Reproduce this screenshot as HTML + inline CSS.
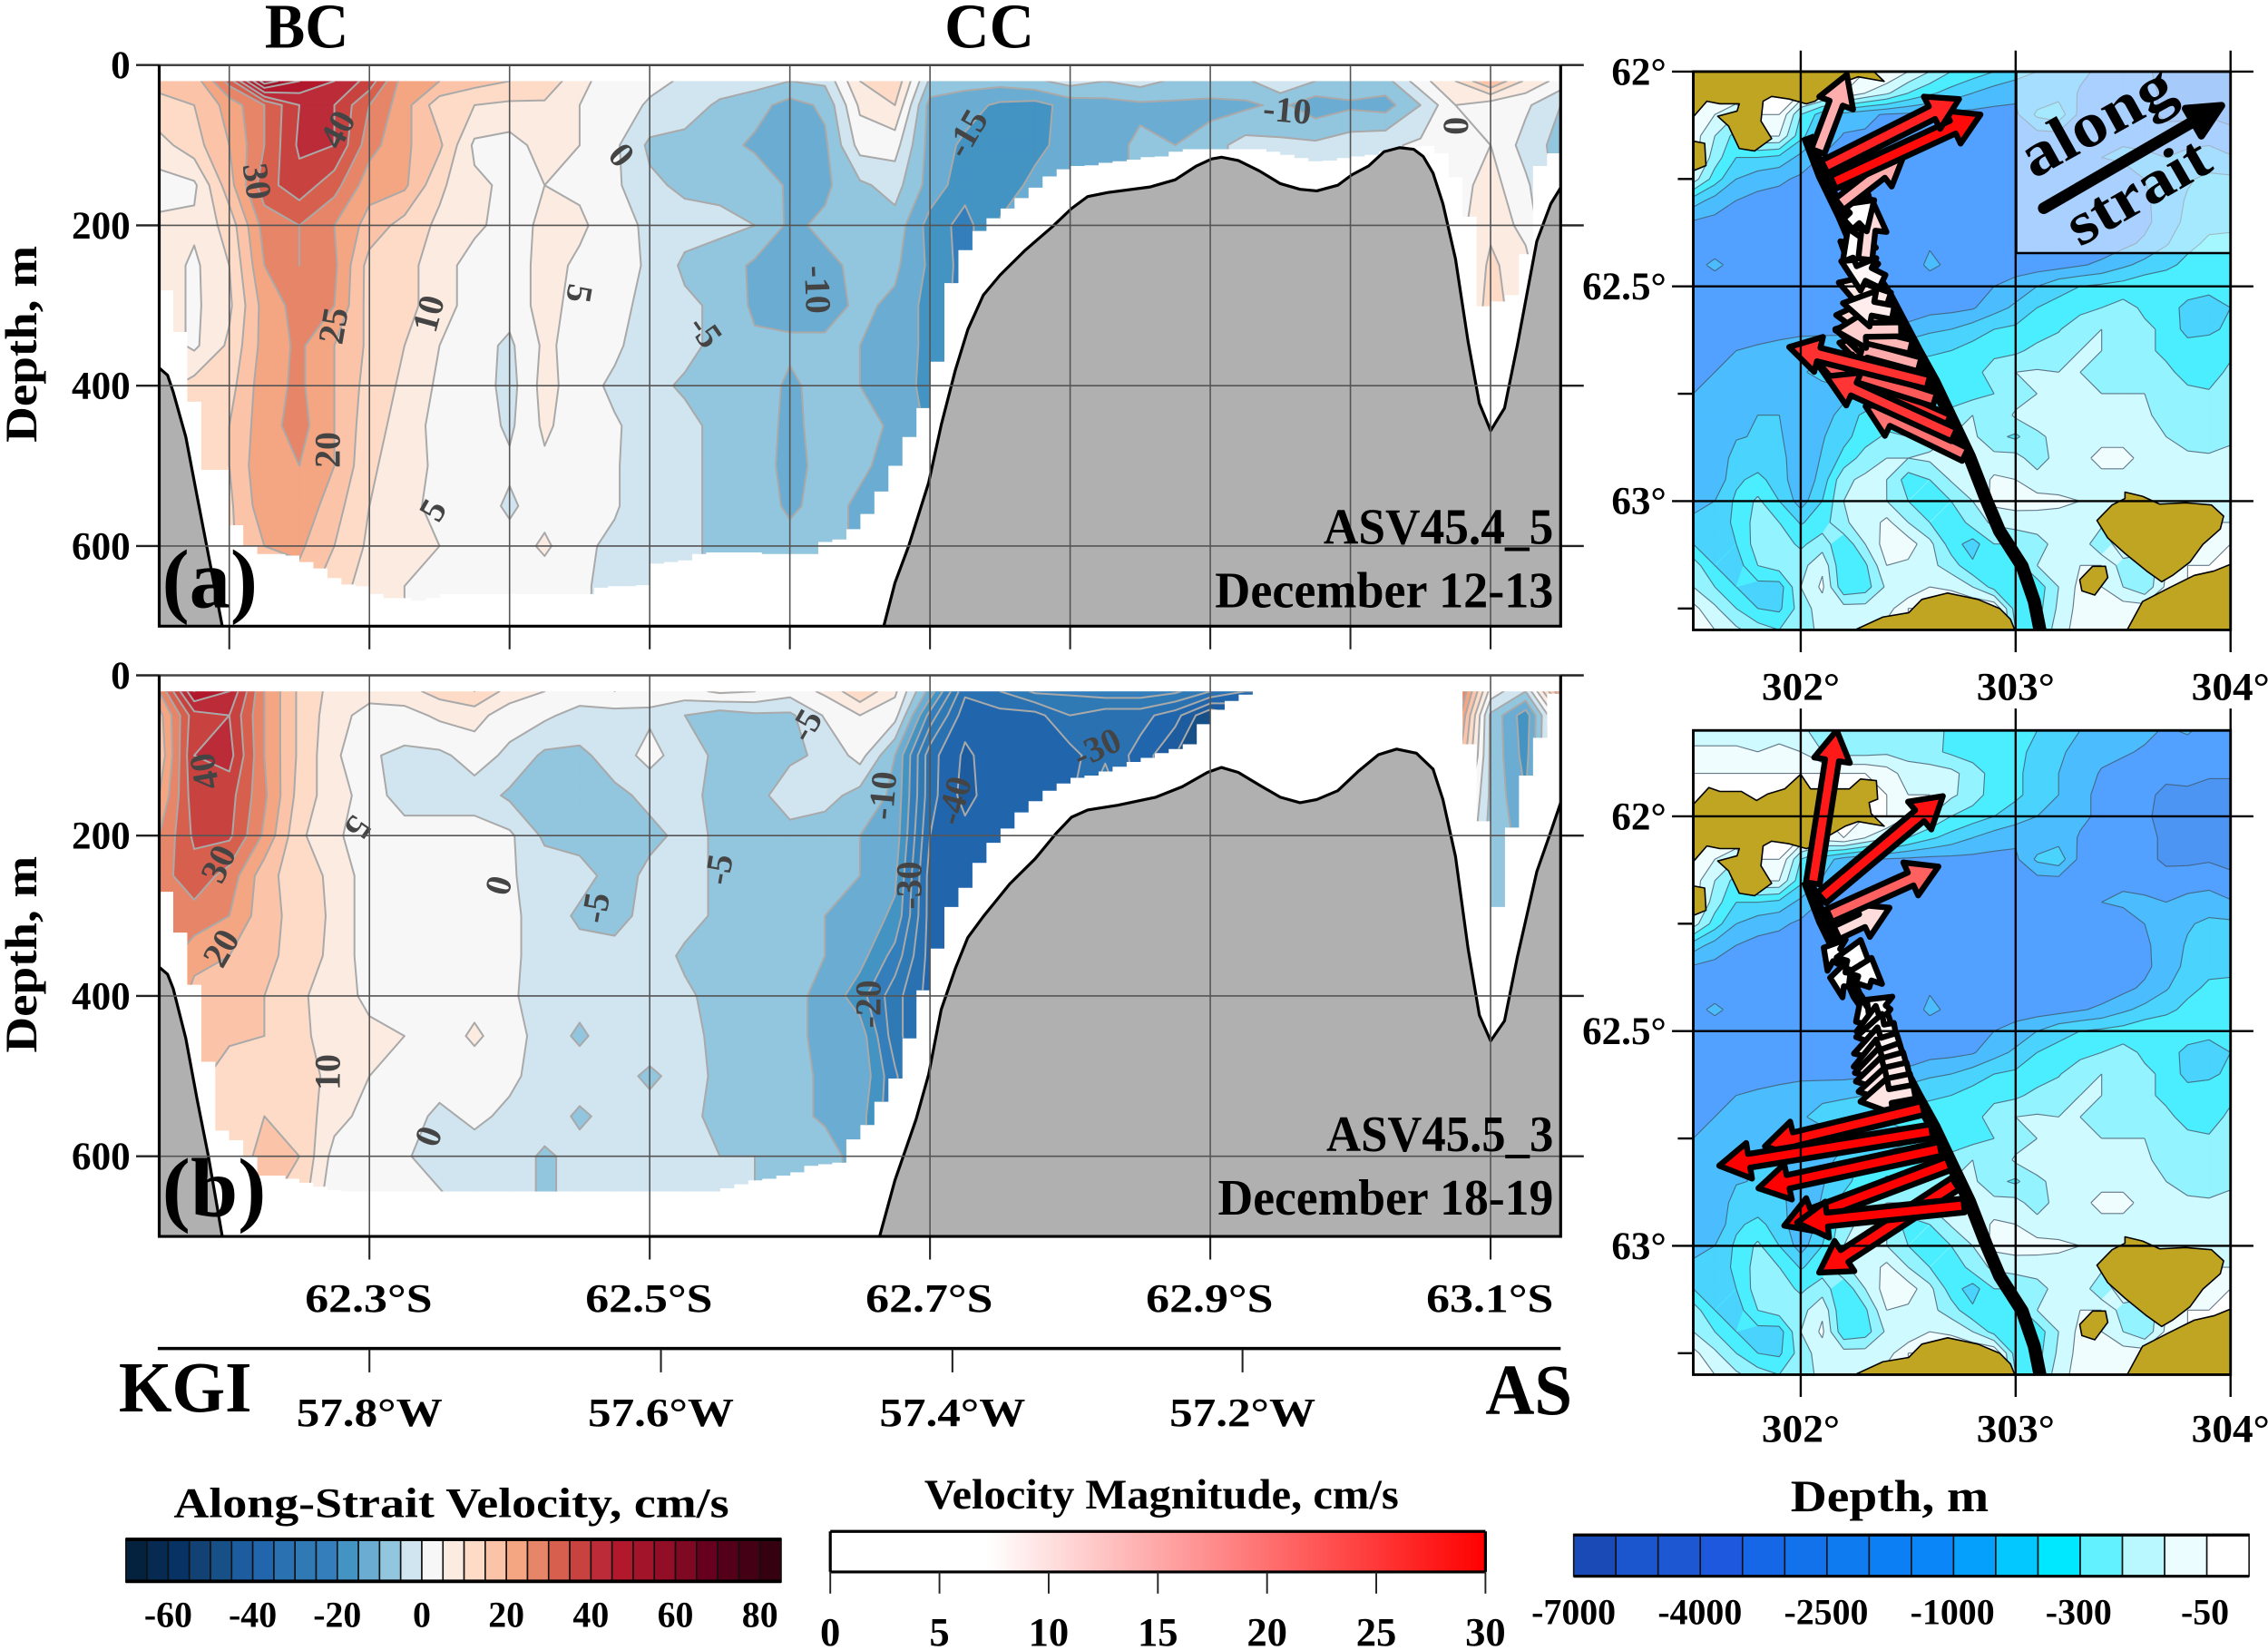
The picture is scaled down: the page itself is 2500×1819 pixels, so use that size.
<!DOCTYPE html>
<html lang="en">
<head>
<meta charset="utf-8">
<title>Along-strait velocity sections and bathymetry maps</title>
<style>
html,body{margin:0;padding:0;background:#fff;}
svg{display:block;width:2500px;height:1819px;}
text{font-family:"Liberation Serif",serif;font-weight:bold;fill:#000;}
</style>
</head>
<body>
<svg id="figure" xmlns="http://www.w3.org/2000/svg" width="2500" height="1819" viewBox="0 0 1568 1141">
<rect x="0" y="0" width="1568" height="1141" fill="#fff"/>
<g id="panel-a"></g>
<g id="panel-b"></g>
<g id="map-a"></g>
<g id="map-b"></g>
<g id="axes-extra"></g>
<g id="colorbars"></g>

<text x="212" y="33" font-size="44" text-anchor="middle" textLength="58" lengthAdjust="spacingAndGlyphs">BC</text>
<text x="684" y="33" font-size="44" text-anchor="middle" textLength="62" lengthAdjust="spacingAndGlyphs">CC</text>
<text transform="translate(25,238) rotate(-90)" font-size="31" text-anchor="middle" textLength="136" lengthAdjust="spacingAndGlyphs">Depth, m</text>
<text transform="translate(25,660) rotate(-90)" font-size="31" text-anchor="middle" textLength="136" lengthAdjust="spacingAndGlyphs">Depth, m</text>
<text x="112" y="420" font-size="58" textLength="66" lengthAdjust="spacingAndGlyphs">(a)</text>
<text x="112" y="841" font-size="58" textLength="72" lengthAdjust="spacingAndGlyphs">(b)</text>
<text x="915" y="376" font-size="35" textLength="159" lengthAdjust="spacingAndGlyphs">ASV45.4_5</text>
<text x="840" y="420" font-size="35" textLength="234" lengthAdjust="spacingAndGlyphs">December 12-13</text>
<text x="917" y="796" font-size="35" textLength="157" lengthAdjust="spacingAndGlyphs">ASV45.5_3</text>
<text x="842" y="840" font-size="35" textLength="232" lengthAdjust="spacingAndGlyphs">December 18-19</text>
<text x="82" y="976" font-size="50" textLength="92" lengthAdjust="spacingAndGlyphs">KGI</text>
<text x="1027" y="978" font-size="50" textLength="60" lengthAdjust="spacingAndGlyphs">AS</text>
<text x="120" y="1049" font-size="29" textLength="384" lengthAdjust="spacingAndGlyphs">Along-Strait Velocity, cm/s</text>
<text x="639" y="1043" font-size="29" textLength="328" lengthAdjust="spacingAndGlyphs">Velocity Magnitude, cm/s</text>
<text x="1238" y="1045" font-size="31" textLength="137" lengthAdjust="spacingAndGlyphs">Depth, m</text>

<defs>
<linearGradient id="magnitude-gradient" x1="0" x2="1" y1="0" y2="0">
<stop offset="0" stop-color="#fff"/><stop offset="0.24" stop-color="#fff"/><stop offset="1" stop-color="#ff0000"/>
</linearGradient>
</defs>
</svg>

<script>
/* ---------- section axes ---------- */
const depthRows = [20,50,100,150,200,250,300,350,400,450,500,550,600,650,680];
const columnLats = [62.15,62.175,62.2,62.225,62.25,62.275,62.3,62.325,62.35,62.375,62.4,62.425,62.45,62.475,62.5,62.525,62.55,62.575,62.6,62.625,62.65,62.675,62.7,62.725,62.75,62.775,62.8,62.825,62.85,62.875,62.9,62.925,62.95,62.975,63.0,63.025,63.05,63.075,63.1,63.125,63.15];
const depthTicks = [0,200,400,600];
const latGridA = [62.2,62.3,62.4,62.5,62.6,62.7,62.8,62.9,63.0,63.1];
const latGridB = [62.3,62.5,62.7,62.9,63.1];
const latLabelValues = [62.3,62.5,62.7,62.9,63.1];
const latLabelText = ["62.3°S","62.5°S","62.7°S","62.9°S","63.1°S"];
const lonTickLats = [62.3,62.508,62.716,62.923];
const lonTickText = ["57.8°W","57.6°W","57.4°W","57.2°W"];

/* ---------- along-strait velocity, cm/s: one array per latitude column, depth rows top to bottom ---------- */
const velocityA = [
[16,14,8,3,6,8,8,8],
[17,15,13,4,6,4,4,4,12],
[32,22,20,18,12,10,9,11,13,15,15,14,14],
[58,30,30,33,27,25,22,22,23,23,24,23,20,18],
[50,40,41,38,30,30,27,26,26,27,25,24,21,18],
[45,40,40,32,25,26,25,20,20,20,20,17,15,12],
[38,30,27,22,18,13,13,14,13,12,11,10,9,8],
[22,22,21,21,13,12,12,10,9,8,7,6,6,5],
[20,12,16,11,9,7,7,5,4,3,4,4,5,3],
[17,10,4,6,6,3,3,2,3,3,3,3,3,2],
[15,9,3,4,3,2,2,-1,-2,-1,1,-1,2,1],
[14,9,7,5,6,7,7,6,7,6,4,3,6,2],
[6,5,5,4,6,4,3,3,2,2,2,2,1,1],
[3,4,1,1,2,3,2,1,-1,0.5,0.5,0.5,-1,-2],
[2,-1,-6,-4,-1,-1,-2,-3,-4,-2,-3,-3,-2,-3],
[-1,-2,-7,-6,-3,-6,-4,-4,-5.5,-4,-4,-4,-4],
[-2,-6,-8,-6,-4,-7,-6,-6,-6,-6,-6,-6,-6],
[-3,-8,-11,-6,-5,-11,-11,-9,-7,-6,-7,-7,-6],
[-5,-12,-11,-11,-11,-12,-12,-9,-11,-12,-12,-11,-8],
[-4,-9,-11,-11,-9,-11,-12,-9,-8,-7,-8,-8],
[10,6,2,-6,-8,-9,-9,-10,-10,-8,-9,-11],
[14,10,2,-3,-7,-9,-11,-11,-12,-11,-12,-12],
[-6,-12,-12,-12,-17,-16,-17,-17,-17,-16],
[-8,-13,-16,-18,-22,-22],
[-8,-16,-17,-19,-14],
[-6,-17,-17,-13],
[-3,-13,-12],
[-5,-12,-12],
[-3,-11,-9],
[-6,-11,-10],
[-5,-12,-7],
[-6,-11,-3],
[-1,-9,-4],
[-5,-13,-4],
[-6,-11,-2],
[-7,-12,-1],
[3,-5,1],
[10,5,3,3,3],
[20,2,5,7,9,11,12,12],
[9,1,-2,1,3,7],
[3,-5,-7]
];
const velocityB = [
[25,18,16,20,25,28,28],
[50,38,40,38,36,33,28,22,18,17],
[45,40,42,37,36,28,25,20,17,16,12,12,13],
[25,25,25,26,24,17,17,17,15,15,11,15,16],
[14,14,14,13,11,12,13,12,11,11,13,13,15,13],
[8,7,6,7,6,9,9,9,7,8,8,7,3,1],
[7,3,0.5,3,2,2,2,2,4,6,5,3,2,0.5],
[8,3,-1,-3,3,1,2,2,3,5,2,2,0.5,1],
[12,6,-1,-2,2,2,2,2,3,2,2,-1,-2,0.5],
[15,7,2,-2,2,2,2,2,3,6,2,1,-2,-2],
[8,2,-1,-6,1,0.5,1,1,1,2,1,-1,-2],
[5,1,-6,-7,-6,-2,-2,-2,-3,-2,-2,-2,-6],
[3,-2,-6,-7,-7,-3,-6,-3,-3,-6,-2,-6,-3,-3],
[5,-2,-3,-6,-7,-7,-7,-3,-2,-2,-3,-3,-4,-2],
[2,-1,2,-4,-6,-4,-3,-2,-2,-2,-6,-3,-3],
[3,-5,-3,-3,-4,-3,-3,-6,-4,-2.5,-3,-4,-4],
[6,-8,-6,-7,-5.5,-6,-6,-7,-7,-7,-6,-6,-5],
[5,-6,-7,-7,-8,-8,-8,-8,-8,-8,-7,-7,-5],
[2,-6,-6,-2,-7,-8,-8,-8,-9,-9,-8,-8,-6],
[6,0.5,-4,-3,-8,-9,-10,-10,-11,-11,-11,-11,-7],
[14,5,2,-7,-10,-10,-12,-13,-18,-12,-11,-13],
[6,2,-10,-11,-12,-14,-16,-22,-28,-28,-24],
[-12,-22,-33,-33,-35,-37,-37,-37],
[-34,-38,-41,-42,-38,-38],
[-30,-37,-37,-36,-36,-36],
[-24,-37,-37,-36,-36],
[-24,-30,-37,-36],
[-22,-33,-31,-26],
[-22,-33,-37],
[-24,-38,-45],
[-30,-50],
[-35,-45],
[-35,-45],
[-35,-45],
[-35,-45],
[-30,-40],
[-10,-10],
[35,30,24,14,10,6],
[3,-6,-6,-6,-7,-7,-7],
[-5,-18,-17,-15,-12],
[25,10]
];

/* ---------- lowest depth with valid velocity data, every 0.01 degree latitude ---------- */
const validDepthA = [281,333,420,505,505,574,600,610,610,612,620,628,640,648,650,660,665,665,668,665,660,660,660,660,660,660,660,660,660,660,660,652,650,650,649,622,620,618,610,608,608,608,608,610,610,610,610,595,592,579,560,532,500,464,428,370,272,231,207,191,179,166,153,139,130,126,125,122,120,118,115,114,108,105,105,105,105,105,105,108,112,116,120,119,116,114,112,108,104,102,101,110,140,189,301,295,287,236,126,110];
const validDepthB = [270,321,386,482,568,580,600,624,624,628,633,638,642,644,644,644,644,644,644,644,644,644,644,644,644,644,644,644,644,644,644,644,644,644,644,644,644,644,644,644,640,635,630,628,624,620,612,610,608,579,561,532,503,453,393,341,289,265,234,209,191,171,157,144,135,128,125,120,114,108,103,97,92,86,61,43,32,24,0,0,0,0,0,0,0,0,0,0,0,0,0,0,0,86,182,289,190,125,78,23];

/* ---------- seafloor profile ---------- */
const floorLatsA = [62.15,62.156,62.16,62.169,62.177,62.185,62.195];
const floorDepthsA = [378,387,408,464,538,610,700];
const ridgeLatsA = [62.667,62.675,62.685,62.699,62.708,62.718,62.727,62.738,62.75,62.768,62.787,62.801,62.8125,62.827,62.857,62.875,62.89,62.901,62.908,62.92,62.935,62.95,62.964,62.976,62.991,63.001,63.013,63.024,63.035,63.045,63.052,63.059,63.066,63.075,63.084,63.092,63.10,63.11,63.119,63.133,63.143,63.15];
const ridgeDepthsA = [700,646,599,521,449,381,330,287,262,231,202,179,164,159,152,143,126,117,115,119,132,148,155,157,150,137,126,108,103,105,114,135,173,242,345,422,456,428,350,220,173,153];
const floorLatsB = [62.15,62.156,62.16,62.169,62.177,62.185,62.195];
const floorDepthsB = [364,373,391,453,529,599,700];
const ridgeLatsB = [62.664,62.675,62.69,62.699,62.708,62.718,62.727,62.738,62.757,62.775,62.79,62.801,62.8125,62.834,62.861,62.88,62.898,62.908,62.92,62.935,62.95,62.964,62.976,62.991,63.006,63.02,63.033,63.047,63.059,63.066,63.075,63.084,63.092,63.10,63.11,63.119,63.133,63.143,63.15];
const ridgeDepthsB = [700,630,554,498,417,366,327,301,260,229,197,177,168,162,152,139,121,115,121,137,152,159,155,144,119,99,92,97,117,155,226,341,424,456,431,352,245,195,159];

/* ---------- contour labels ---------- */
const contourTextA = ["40","30","25","20","10","5","5","0","-5","-10","-15","-10","0"];
const contourLatsA = [62.277,62.22,62.274,62.27,62.342,62.45,62.345,62.48,62.54,62.62,62.726,62.955,63.075];
const contourDepthsA = [80,145,325,480,310,285,555,112,332,280,85,56,76];
const contourAnglesA = [-62,82,-80,-90,-75,100,-60,50,55,88,-60,5,-90];
const contourTextB = ["40","30","20","5","10","0","0","-5","-5","-5","-10","-30","-20","-40","-30"];
const contourLatsB = [62.182,62.192,62.194,62.292,62.27,62.342,62.392,62.461,62.549,62.611,62.666,62.685,62.656,62.717,62.819];
const contourDepthsB = [120,235,340,190,495,575,262,290,242,62,150,262,410,156,90];
const contourAnglesB = [-100,-65,-60,125,-90,-70,-75,-80,-80,-60,-85,-90,-90,-75,-25];

/* ---------- velocity colour map, 5 cm/s per band from -70 ---------- */
const velocityColors = ["#04213e","#062a51","#073264","#114273","#174f87","#1d5c9e","#2166ac","#2a71b2","#2f79b5","#337ebb","#4393c3","#6aacd2","#92c5de","#d1e5f0","#f7f7f7","#fcebe1","#fddbc7","#fbc4a8","#f4a582","#e78569","#d6604d","#c8433f","#bb2b38","#b2182b","#a21429","#910e26","#7f0822","#67001f","#550019","#440015","#35000f"];
const velocityTickValues = [-60,-40,-20,0,20,40,60,80];
const magnitudeTickValues = [0,5,10,15,20,25,30];
const depthBarColors = ["#1a4ab5","#1b56cf","#1d58d2","#1e58de","#1666e8","#1272ec","#0f7bf0","#0c7ff4","#0a86f8","#05a0fb","#02c8ff","#00e8ff","#62f1ff","#baf8ff","#ecfdff","#ffffff"];
const depthBarTicks = ["-7000","-4000","-2500","-1000","-300","-50"];

/* ---------- map: depth band index on a 0.1 by 0.05 degree grid ---------- */
const mapLons = [301.5,301.6,301.7,301.8,301.9,302.0,302.1,302.2,302.3,302.4,302.5,302.6,302.7,302.8,302.9,303.0,303.1,303.2,303.3,303.4,303.5,303.6,303.7,303.8,303.9,304.0];
const mapLats = [61.8,61.85,61.9,61.95,62.0,62.05,62.1,62.15,62.2,62.25,62.3,62.35,62.4,62.45,62.5,62.55,62.6,62.65,62.7,62.75,62.8,62.85,62.9,62.95,63.0,63.05,63.1,63.15,63.2,63.25,63.3];
const mapBands = [
[5.5,5.5,5.5,5.5,5.5,5.2,4.6,4.5,4.5,4.5,4.5,4.4,3.8,3.5,3.5,3.4,3,2.6,2.0,1.5,1.4,1.2,0.9,1.1,0.7,0.5],
[6.2,6.2,6.2,6,6.3,6,5,4.6,4.6,4.8,4.6,4.3,3.8,3.5,3.4,3.2,2.8,2.2,1.6,1.3,1.1,0.9,0.6,0.6,0.4,0.3],
[7,7,7,7,7,7,7,7,7,6.5,5.5,5.5,5.3,4.5,3.6,3.2,2.6,2,1.5,0.9,0.7,0.5,0.2,0.3,0.1,0.1],
[7,7,7,7,7,7,7,7,7,7,6,6,5.2,4.5,3.5,3.2,2.6,2,1.3,0.7,0.4,0.2,-0.2,-0.2,-0.3,-0.3],
[7,7,7,7,7,7,7,7,7,7,6,5,4,3.5,3,2.5,2.0,1.6,1.2,0.8,0.4,0.1,-0.2,-0.4,-0.4,-0.4],
[7,7,7,7,7,7,6.5,7,6,5.2,4,3.2,2.6,2,1.5,1.2,1.3,1.6,0.9,0.7,0.6,0.3,-0.2,-0.4,-0.3,-0.4],
[7,6,5,7,7,4,2.5,1.6,1.2,0.9,0.8,0.7,0.7,0.7,0.7,0.8,2.2,2.6,0.7,0.4,0.5,0.3,-0.2,-0.3,-0.1,-0.3],
[6.5,5,3.6,6,6,3.3,1.9,0.9,0.9,0.7,0.4,0.4,0.6,0.5,0.5,0.4,0.6,0.6,0.5,0.6,0.9,0.6,0.4,0.7,0.6,0.3],
[6.5,4.5,3,3,2.7,1.7,0.9,0.6,0.6,0.5,0.4,0.4,0.5,0.9,0.5,0.4,0.3,0.3,0.6,1,1.1,1.2,1,1.2,1.5,1.1],
[5.5,3.5,2,1.4,1.2,0.8,0.6,0.5,0.5,0.5,0.5,0.5,0.5,0.5,0.4,0.3,0.3,0.3,0.3,0.5,0.7,1.0,1.3,1.9,2.2,2.2],
[2.5,1.6,1,0.7,0.6,0.5,0.4,0.4,0.4,0.5,0.4,0.4,0.4,0.3,0.3,0.3,0.4,0.4,0.4,0.4,0.4,0.8,1.5,2.1,2.5,2.6],
[0.9,0.7,0.5,0.4,0.4,0.4,0.4,0.4,0.4,0.5,0.3,0.5,0.4,0.3,0.3,0.3,0.3,0.3,0.3,0.3,0.3,0.7,1.6,2.2,2.7,2.8],
[0.6,0.5,0.7,0.4,0.3,0.3,0.3,0.3,0.3,0.3,0.3,0.9,0.6,0.4,0.3,0.3,0.3,0.3,0.3,0.4,0.7,1.2,1.9,2.7,3.2,3.2],
[0.7,1.2,0.7,0.4,0.3,0.3,0.3,0.3,0.3,0.3,0.5,1.2,0.8,0.5,0.5,0.5,0.5,0.6,0.9,1.2,1.8,2.3,2.7,3.3,3.4,3.4],
[0.5,0.5,0.5,0.4,0.3,0.3,0.3,0.3,0.3,0.3,0.3,0.5,0.6,0.6,1.0,1.4,2,2.7,3.0,3.2,3.4,3.8,3.9,3.7,3.4,3.4],
[0.5,0.5,0.4,0.4,0.3,0.3,0.3,0.3,0.3,0.3,0.4,0.6,0.7,0.9,1.6,2.2,3,3.3,3.6,4,4.4,3.8,3.6,2.6,2.4,3],
[0.4,0.4,0.4,0.5,0.6,0.7,0.7,0.7,0.8,1,1.3,1.8,2,2.5,3,3.2,3.5,3.9,4.8,5,4.6,4.2,3.8,2.6,2.7,3.3],
[0.6,0.9,1.0,1.2,1.4,1.6,1.7,1.8,2,2.4,2.8,2.9,3.0,3.4,3.7,3.8,4.3,4.6,5,5,4.5,4.2,3.8,3.6,3.8,3.8],
[0.8,1,1.3,1.4,1.6,1.8,2.5,2.9,3,3.2,3.3,3.3,3.4,3.6,4.5,5,5.1,5,5,4.7,4.3,4.2,4.2,3.7,3.6,4.2],
[1,1.1,1.2,1.4,1.4,1.3,1.3,1.6,2,2.4,2.8,3,3.1,3.6,4,4.4,5,5,5,5,5,5,4.4,4.2,4.1,4.5],
[1.0,1.1,1.8,2,2,1,1.4,2.5,3.2,3.4,3.6,3.7,4.5,5,4,5.2,5.5,5.5,5.5,5.5,5.5,5.2,4.6,4.3,4.2,4.6],
[1.0,1.1,1.9,2.1,2.2,1,1.9,2.7,3.5,4.2,4.0,4.5,5,5.2,4.3,3.8,4.8,5.3,5.5,5.5,5.5,5.5,5.0,4.4,4.3,4.8],
[1,1.1,2.5,2.4,2.4,1.2,2.1,3.3,4.5,5,5,5.2,5,5,5.3,5.4,4.4,5.5,5.5,6.5,6.5,5.5,5.4,5.3,5.2,5.3],
[1.1,1.2,2.8,3.3,2.5,1.2,2.4,4.8,5.2,5,3.5,4,5.1,5.2,6.2,6,5.5,5.5,5.5,5.5,5.5,5.5,5.5,5.5,5.5,5.6],
[1.1,2,3.2,4.2,3,1.5,3,5,5.4,5,4,3.1,4,5,6.3,6.4,6.3,6.2,6,5.6,5.6,5.6,5.6,5.7,5.7,5.8],
[2.6,2.2,3.3,4.4,4,2.9,3.5,4.9,5.3,6.3,5,4,3,4.5,5.2,5.5,5.6,5.6,5.5,5.3,6,6,6,6,6,6],
[3,2.4,3,4.5,4.5,3.8,4.5,3.2,5,6.5,6.5,5.3,3.5,2.5,4,4,4.5,5.5,5.8,4,6,6,6.3,6.5,6.7,7],
[4.5,3,2.5,4,4.5,4.6,5.8,3,3.8,6,5.8,5.3,4.5,3.2,3.4,3.5,5,5.4,6,6,4.5,4,6,7,7,7],
[5,4,3,2.6,2.5,5,6.2,3.2,3.5,5.2,5,6,5.8,5,3.6,3.4,3.4,5,6.3,6,5,4.2,6.2,7,7,7],
[6.3,5.2,4,3,2.8,4.5,5.5,5.4,5.4,5.5,7,7,7,7,7,3.5,3.6,5.2,6.4,6.5,6.5,6.5,7,7,7,7],
[6.5,6,5.2,4.5,4,4.5,5.3,5.5,6,6.5,7,7,7,7,7,4,4,5.5,6.5,6.5,6.5,7,7,7,7,7]
];
const mapBandColors = ["#4c95f3","#52a0ff","#4bbdff","#49d3fd","#4aeeff","#93f3ff","#cffaff","#f0fdff","#ffffff"];

/* ---------- land outlines [lon, lat] ---------- */
const landKing = [[301.503,61.971],[301.573,61.933],[301.624,61.942],[301.724,61.942],[301.795,61.963],[301.845,61.948],[301.926,61.936],[302.0,61.902],[302.046,61.936],[302.147,61.936],[302.227,61.936],[302.278,61.913],[302.352,61.917],[302.358,61.96],[302.318,61.968],[302.328,61.994],[302.388,62.023],[302.268,62.012],[302.207,62.023],[302.127,62.046],[302.066,62.069],[302.026,62.075],[301.946,62.064],[301.865,62.058],[301.825,62.069],[301.815,62.115],[301.865,62.156],[301.785,62.185],[301.714,62.179],[301.664,62.127],[301.614,62.104],[301.704,62.092],[301.714,62.075],[301.624,62.075],[301.563,62.069],[301.503,62.104]];
const landWestBit = [[301.5,62.162],[301.553,62.167],[301.559,62.219],[301.5,62.231]];
const landEastIsland = [[303.378,63.045],[303.449,63.009],[303.509,62.994],[303.509,62.979],[303.59,62.989],[303.67,63.007],[303.791,63.004],[303.911,63.009],[303.968,63.035],[303.952,63.065],[303.871,63.101],[303.811,63.142],[303.73,63.173],[303.68,63.188],[303.61,63.163],[303.509,63.122],[303.429,63.086]];
const landSmallIsland = [[303.298,63.183],[303.358,63.152],[303.418,63.152],[303.429,63.178],[303.368,63.219],[303.308,63.209]];
const landSouthEast = [[303.519,63.3],[303.59,63.234],[303.71,63.203],[303.831,63.173],[303.922,63.163],[304.0,63.147],[304.0,63.3]];
const landSouth = [[302.252,63.3],[302.382,63.27],[302.503,63.26],[302.563,63.229],[302.684,63.214],[302.825,63.229],[302.926,63.25],[302.976,63.275],[302.996,63.3]];
const landList = [landKing,landWestBit,landEastIsland,landSmallIsland,landSouthEast,landSouth];

/* ---------- ship track and velocity vectors ---------- */
const trackLons = [302.03,302.1,302.19,302.26,302.40,302.54,302.62,302.785,302.865,302.925,303.03,303.087,303.117];
const trackLats = [62.15,62.242,62.334,62.416,62.518,62.651,62.723,62.897,62.999,63.07,63.152,63.234,63.31];
const vectorLonA = [302.45,302.41,302.34,302.25,302.553,302.513,302.467,302.43,302.38,302.29,302.30,302.22,302.2,302.18,302.765,302.684,302.624,302.594,302.714,302.15,302.11,302.08];
const vectorLatA = [62.58,62.53,62.46,62.39,62.682,62.641,62.6,62.561,62.488,62.447,62.437,62.355,62.273,62.309,62.892,62.815,62.764,62.723,62.846,62.258,62.222,62.186];
const vectorEastA = [-11,-9,-6,2.5,-14.4,-13.6,-11.8,-9,-7.4,-2.7,1.2,4.7,5,11.7,-17.9,-23.4,-21,-25,-23,26.5,24.2,5.2];
const vectorNorthA = [1,3,5,8,3.9,3.2,-0.2,1.7,3.6,6.3,10.7,4.3,9,9.1,8.7,10.3,6.7,6.3,10.5,12.2,12.2,13.8];
const vectorLonB = [302.187,302.237,302.227,302.288,302.348,302.398,302.415,302.439,302.455,302.469,302.485,302.5,302.515,302.529,302.167,302.133,302.097,302.056,302.569,302.61,302.65,302.69,302.72,302.76];
const vectorLatB = [62.329,62.358,62.381,62.393,62.45,62.462,62.475,62.497,62.52,62.543,62.565,62.589,62.615,62.641,62.271,62.231,62.19,62.156,62.679,62.733,62.774,62.808,62.855,62.906];
const vectorEastB = [-3.1,1.6,-3.5,1.6,-3.5,-3.5,-6,-7,-8,-8.6,-9,-9.4,-9.5,-9.7,9.5,19.6,21.8,4.3,-28.4,-38.2,-32.7,-29.6,-24.5,-30];
const vectorNorthB = [1.8,5.4,0.4,4.9,-2.2,2.7,-2,-1.3,-2.5,-3.1,-2.5,-2.2,-2,-1.8,4.5,8.8,18.3,27.5,-6.9,-6.2,-7.1,-11.2,-16,-3.1];
const mapLatTicks = [62,62.5,63];
const mapLatTickText = ["62°","62.5°","63°"];
const mapMinorLats = [62.25,62.75,63.25];
const mapLonTicks = [302,303,304];
const mapLonTickText = ["302°","303°","304°"];

/* ---------- helpers ---------- */
const NS = "http://www.w3.org/2000/svg";
function make(tag, attrs, parent){
  const el = document.createElementNS(NS, tag);
  for (const k in attrs) el.setAttribute(k, attrs[k]);
  parent.appendChild(el);
  return el;
}
function clipAt(poly, L, above){
  const out = [];
  for (let i=0;i<poly.length;i++){
    const a = poly[i], b = poly[(i+1)%poly.length];
    const ia = above ? a.v>=L : a.v<=L;
    const ib = above ? b.v>=L : b.v<=L;
    if (ia) out.push(a);
    if (ia!==ib){
      const t = (L-a.v)/(b.v-a.v);
      out.push({x:a.x+(b.x-a.x)*t, y:a.y+(b.y-a.y)*t, v:L});
    }
  }
  return out;
}
function bandPaths(xs, ys, values, levels){
  const fills = levels.slice(0,-1).map(()=>[]);
  const lines = [];
  for (let i=0;i<xs.length-1;i++){
    for (let j=0;j<ys.length-1;j++){
      const cell = [
        {x:xs[i],y:ys[j],v:values(i,j)},
        {x:xs[i+1],y:ys[j],v:values(i+1,j)},
        {x:xs[i+1],y:ys[j+1],v:values(i+1,j+1)},
        {x:xs[i],y:ys[j+1],v:values(i,j+1)}
      ];
      const mn = Math.min(cell[0].v,cell[1].v,cell[2].v,cell[3].v);
      const mx = Math.max(cell[0].v,cell[1].v,cell[2].v,cell[3].v);
      for (let b=0;b<levels.length-1;b++){
        const lo = levels[b], hi = levels[b+1];
        if (mx<lo || mn>hi) continue;
        let p = clipAt(cell,lo,true);
        if (p.length) p = clipAt(p,hi,false);
        if (p.length>2) fills[b].push("M"+p.map(q=>q.x.toFixed(1)+" "+q.y.toFixed(1)).join("L")+"Z");
      }
      for (const L of levels){
        if (L<=mn || L>=mx) continue;
        const cross = [];
        for (let e=0;e<4;e++){
          const a = cell[e], c = cell[(e+1)%4];
          if ((a.v<L)!==(c.v<L)){
            const t = (L-a.v)/(c.v-a.v);
            cross.push((a.x+(c.x-a.x)*t).toFixed(1)+" "+(a.y+(c.y-a.y)*t).toFixed(1));
          }
        }
        if (cross.length>=2) lines.push("M"+cross[0]+"L"+cross[1]);
        if (cross.length===4) lines.push("M"+cross[2]+"L"+cross[3]);
      }
    }
  }
  return {fills, lines};
}

/* ---------- section panels ---------- */
const PX_PER_DEG = 969, PANEL_LEFT = 110, PANEL_RIGHT = 1079, PANEL_H = 388;
function xLat(lat){ return PANEL_LEFT + (lat-62.15)*PX_PER_DEG; }

function drawPanel(group, key, top, velocity, validDepth, floorLats, floorDepths, ridgeLats, ridgeDepths, gridLats, labelText, labelLats, labelDepths, labelAngles){
  const yD = d => top + d*PANEL_H/700;
  const bottom = top + PANEL_H;

  let clip = "";
  validDepth.forEach((d,k)=>{
    if (d<=20) return;
    const x0 = xLat(62.15+0.01*k), x1 = xLat(62.15+0.01*(k+1))+0.3;
    clip += "M"+x0.toFixed(1)+" "+yD(20).toFixed(1)+"H"+x1.toFixed(1)+"V"+yD(d).toFixed(1)+"H"+x0.toFixed(1)+"Z";
  });
  const cp = make("clipPath",{id:"data-clip-"+key},group);
  make("path",{d:clip},cp);

  const xs = columnLats.map(xLat), ys = depthRows.map(yD);
  const levels = velocityColors.map((c,i)=>-70+5*i).concat([85]);
  const lookup = (i,j)=>{
    const col = velocity[i];
    const v = j<col.length ? col[j] : col[col.length-1];
    return v+0.001;
  };
  const res = bandPaths(xs, ys, lookup, levels);
  const field = make("g",{"clip-path":"url(#data-clip-"+key+")"},group);
  
  
  res.fills.forEach((parts,b)=>{
    if (!parts.length) return;
    const band = make("path",{d:parts.join(""),fill:velocityColors[b],stroke:velocityColors[b],"stroke-width":0.4},field);
    
    
  });
  const iso = make("path",{d:res.lines.join(""),fill:"none",stroke:"#a9a9a9","stroke-width":1.25,"stroke-linecap":"round"},field);
  
  

  const toPts = (lats,deps)=>lats.map((l,i)=>xLat(l).toFixed(1)+" "+yD(deps[i]).toFixed(1));
  const leftPts = toPts(floorLats,floorDepths);
  const leftFloor = make("path",{d:"M"+PANEL_LEFT+" "+bottom+"L"+leftPts.join("L")+"Z",fill:"#b0b0b0"},group);
  
  
  const leftLine = make("path",{d:"M"+leftPts.join("L"),fill:"none",stroke:"#000","stroke-width":2},group);
  
  
  const ridgePts = toPts(ridgeLats,ridgeDepths);
  const ridge = make("path",{d:"M"+ridgePts.join("L")+"L"+PANEL_RIGHT+" "+bottom+"Z",fill:"#b0b0b0"},group);
  
  
  const ridgeLine = make("path",{d:"M"+ridgePts.join("L"),fill:"none",stroke:"#000","stroke-width":2,"stroke-linejoin":"round"},group);
  
  

  labelText.forEach((s,i)=>{
    const t = make("text",{"text-anchor":"middle","font-size":25,"dominant-baseline":"central",transform:"translate("+xLat(labelLats[i]).toFixed(1)+","+yD(labelDepths[i]).toFixed(1)+") rotate("+labelAngles[i]+")",style:"fill:#444"},group);
    t.textContent = s;
    
    
  });

  gridLats.forEach(l=>{
    const x = xLat(l);
    const g = make("line",{x1:x,x2:x,y1:top,y2:bottom,stroke:"#555","stroke-width":1},group);
    
    
    const tk = make("line",{x1:x,x2:x,y1:bottom,y2:bottom+16,stroke:"#222","stroke-width":1.3},group);
    
    
  });
  depthTicks.forEach(d=>{
    const y = yD(d);
    const g = make("line",{x1:PANEL_LEFT,x2:PANEL_RIGHT,y1:y,y2:y,stroke:d===0?"#444":"#555","stroke-width":d===0?1.6:1},group);
    
    
    const tl = make("line",{x1:94,x2:PANEL_LEFT,y1:y,y2:y,stroke:"#222","stroke-width":1.5},group);
    
    
    const tr = make("line",{x1:PANEL_RIGHT,x2:1095,y1:y,y2:y,stroke:"#222","stroke-width":1.5},group);
    
    
    const t = make("text",{x:90,y:y+9,"text-anchor":"end","font-size":27},group);
    t.textContent = d;
    
    
  });
  const frame = make("path",{d:"M"+PANEL_LEFT+" "+top+"V"+bottom+"H"+PANEL_RIGHT+"V"+top,fill:"none",stroke:"#000","stroke-width":2},group);
  
  
}
drawPanel(document.getElementById("panel-a"),"a",45,velocityA,validDepthA,floorLatsA,floorDepthsA,ridgeLatsA,ridgeDepthsA,latGridA,contourTextA,contourLatsA,contourDepthsA,contourAnglesA);
drawPanel(document.getElementById("panel-b"),"b",467,velocityB,validDepthB,floorLatsB,floorDepthsB,ridgeLatsB,ridgeDepthsB,latGridB,contourTextB,contourLatsB,contourDepthsB,contourAnglesB);

/* ---------- shared lat / lon axes ---------- */
const extra = document.getElementById("axes-extra");
latLabelValues.forEach((l,i)=>{
  const t = make("text",{x:xLat(l)-0.5,y:907,"text-anchor":"middle","font-size":28,textLength:88,lengthAdjust:"spacingAndGlyphs"},extra);
  t.textContent = latLabelText[i];
  
  
});
const rule = make("line",{x1:109,x2:1079,y1:932.5,y2:932.5,stroke:"#000","stroke-width":2.2},extra);


lonTickLats.forEach((l,i)=>{
  const x = xLat(l);
  const tk = make("line",{x1:x,x2:x,y1:933,y2:949,stroke:"#222","stroke-width":1.3},extra);
  
  
  const t = make("text",{x:x,y:986,"text-anchor":"middle","font-size":28,textLength:101,lengthAdjust:"spacingAndGlyphs"},extra);
  t.textContent = lonTickText[i];
  
  
});

/* ---------- maps ---------- */
function magnitudeColor(s){
  const f = Math.max(0,Math.min(1,(s-7.5)/22.5));
  const g = Math.round(255*(1-f));
  return "rgb(255,"+g+","+g+")";
}
function drawMap(group, key, lat625y, topLat, vLon, vLat, vEast, vNorth, lonLabelY, vTop, vBottom, inset){
  const xL = lon => 1245 + (lon-302)*148.6;
  const yL = lat => lat625y + (lat-62.5)*297;
  const fx = xL(301.5), fr = xL(304), fy = yL(topLat), fb = yL(63.3);

  const cp = make("clipPath",{id:"map-clip-"+key},group);
  make("rect",{x:fx,y:fy,width:fr-fx,height:fb-fy},cp);
  const field = make("g",{"clip-path":"url(#map-clip-"+key+")"},group);
  
  

  const levels = mapBandColors.map((c,i)=>i-1).concat([8]);
  const res = bandPaths(mapLons.map(xL), mapLats.map(yL), (i,j)=>mapBands[j][i]+0.001, levels);
  res.fills.forEach((parts,b)=>{
    if (!parts.length) return;
    const band = make("path",{d:parts.join(""),fill:mapBandColors[b],stroke:mapBandColors[b],"stroke-width":0.4},field);
    
    
  });
  const iso = make("path",{d:res.lines.join(""),fill:"none",stroke:"#41566a","stroke-width":0.7,"stroke-opacity":0.8},field);
  
  

  landList.forEach(poly=>{
    const d = "M"+poly.map(p=>xL(p[0]).toFixed(1)+" "+yL(p[1]).toFixed(1)).join("L")+"Z";
    const land = make("path",{d:d,fill:"#bfa521",stroke:"#000","stroke-width":1,"stroke-linejoin":"round"},field);
    
    
  });

  if (inset){
    const bx = make("rect",{x:1394,y:fy,width:fr-1394,height:175-fy,fill:"#fff","fill-opacity":0.5},group);
    
    
    const bl = make("path",{d:"M1394 "+fy+"V175H"+fr,fill:"none",stroke:"#000","stroke-width":1.6},group);
    
    
  }

  const trk = make("path",{d:"M"+trackLons.map((l,i)=>xL(l).toFixed(1)+" "+yL(trackLats[i]).toFixed(1)).join("L"),fill:"none",stroke:"#000","stroke-width":9,"stroke-linejoin":"round"},field);
  
  

  /* velocity vectors at 3.85 px per cm/s */
  vLon.forEach((lon,i)=>{
    const e = vEast[i], n = vNorth[i];
    const speed = Math.sqrt(e*e+n*n);
    const len = speed*3.85;
    const ux = e/speed, uy = -n/speed, px = -uy, py = ux;
    const x0 = xL(lon), y0 = yL(vLat[i]);
    const hl = Math.min(21,len*0.75), sw = 4.8, hw = 12.5;
    const pts = [
      [x0+px*sw,y0+py*sw],
      [x0+ux*(len-hl)+px*sw,y0+uy*(len-hl)+py*sw],
      [x0+ux*(len-hl)+px*hw,y0+uy*(len-hl)+py*hw],
      [x0+ux*len,y0+uy*len],
      [x0+ux*(len-hl)-px*hw,y0+uy*(len-hl)-py*hw],
      [x0+ux*(len-hl)-px*sw,y0+uy*(len-hl)-py*sw],
      [x0-px*sw,y0-py*sw]
    ];
    const arrow = make("path",{d:"M"+pts.map(p=>p[0].toFixed(1)+" "+p[1].toFixed(1)).join("L")+"Z",fill:magnitudeColor(speed),stroke:"#000","stroke-width":4,"stroke-linejoin":"round"},field);
    
    
  });

  mapLonTicks.forEach((l,i)=>{
    const x = xL(l);
    const g = make("line",{x1:x,x2:x,y1:vTop,y2:vBottom,stroke:"#000","stroke-width":1.5},group);
    
    
    const t = make("text",{x:x+(i===2?0:0),y:lonLabelY,"text-anchor":"middle","font-size":27,textLength:54,lengthAdjust:"spacingAndGlyphs"},group);
    t.textContent = mapLonTickText[i];
    
    
  });
  mapLatTicks.forEach((l,i)=>{
    const y = yL(l);
    const g = make("line",{x1:1156,x2:1558,y1:y,y2:y,stroke:"#000","stroke-width":1.5},group);
    
    
    const t = make("text",{x:1152,y:y+9,"text-anchor":"end","font-size":27},group);
    t.textContent = mapLatTickText[i];
    
    
  });
  mapMinorLats.forEach(l=>{
    const y = yL(l);
    const g = make("line",{x1:1160,x2:fx,y1:y,y2:y,stroke:"#000","stroke-width":1.5},group);
    
    
  });
  const frame = make("rect",{x:fx,y:fy,width:fr-fx,height:fb-fy,fill:"none",stroke:"#000","stroke-width":1.8},group);
  
  
}
drawMap(document.getElementById("map-a"),"a",198,62,vectorLonA,vectorLatA,vectorEastA,vectorNorthA,484,35,451,true);
drawMap(document.getElementById("map-b"),"b",713,61.8,vectorLonB,vectorLatB,vectorEastB,vectorNorthB,997,490,966,false);

/* along-strait inset artwork */
(function(){
  const g = document.getElementById("map-a");
  const s = make("path",{d:"M1413 144L1520 82",fill:"none",stroke:"#000","stroke-width":8,"stroke-linecap":"round"},g);
  
  
  const h = make("path",{d:"M1511 75L1536 73L1522 94Z",fill:"#000",stroke:"#000","stroke-width":5,"stroke-linejoin":"round"},g);
  
  
  const a = make("text",{transform:"translate(1406,124) rotate(-29)","font-size":44,textLength:115,lengthAdjust:"spacingAndGlyphs"},g);
  a.textContent = "along";
  
  
  const b = make("text",{transform:"translate(1438,171) rotate(-30)","font-size":42,textLength:108,lengthAdjust:"spacingAndGlyphs"},g);
  b.textContent = "strait";
  
  
})();

/* ---------- colorbars ---------- */
const bars = document.getElementById("colorbars");
const vbX = v => 87 + (v+70)*(453/155);
velocityColors.forEach((c,i)=>{
  const x0 = vbX(-70+5*i), x1 = vbX(-65+5*i);
  const r = make("rect",{x:x0,y:1064,width:x1-x0,height:30,fill:c,stroke:"#111","stroke-width":1},bars);
  
  
});
const vbFrame = make("path",{d:"M87 1064.5H540M87 1093.5H540",stroke:"#000","stroke-width":2.4,fill:"none"},bars);


velocityTickValues.forEach(v=>{
  const t = make("text",{x:vbX(v),y:1125,"text-anchor":"middle","font-size":25},bars);
  t.textContent = v;
  
  
});
const mb = make("rect",{x:574,y:1059,width:453,height:28,fill:"url(#magnitude-gradient)"},bars);


const mbFrame = make("path",{d:"M574 1059H1027M574 1087H1027M574 1059V1087M1027 1059V1087",stroke:"#000","stroke-width":2,fill:"none"},bars);


magnitudeTickValues.forEach(v=>{
  const x = 574 + v*453/30;
  const tk = make("line",{x1:x,x2:x,y1:1087,y2:1102,stroke:"#222","stroke-width":1.2},bars);
  
  
  const t = make("text",{x:x,y:1138,"text-anchor":"middle","font-size":28},bars);
  t.textContent = v;
  
  
});
const segW = (1555-1088)/depthBarColors.length;
depthBarColors.forEach((c,i)=>{
  const r = make("rect",{x:1088+i*segW,y:1061,width:segW,height:29,fill:c,stroke:"#111","stroke-width":1},bars);
  
  
});
const dbFrame = make("path",{d:"M1088 1061.5H1555M1088 1090H1555",stroke:"#000","stroke-width":2,fill:"none"},bars);


depthBarTicks.forEach((s,i)=>{
  const t = make("text",{x:1088+i*87.3,y:1123,"text-anchor":"middle","font-size":25},bars);
  t.textContent = s;
  
  
});
</script>
</body>
</html>
